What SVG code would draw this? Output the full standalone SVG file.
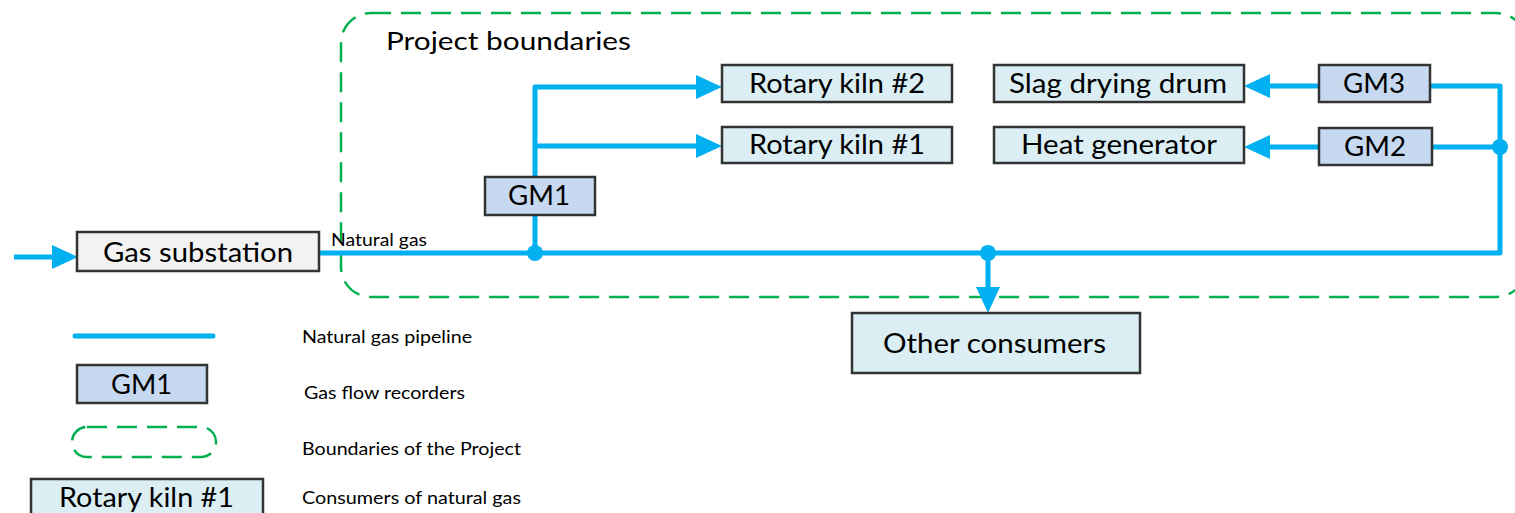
<svg xmlns="http://www.w3.org/2000/svg" width="1515" height="513" viewBox="0 0 1515 513">
<defs>
<style>
.box{stroke:#333;stroke-width:2.5}
.cons{fill:#DAEEF3}
.gm{fill:#C6D9F1}
.sub{fill:#F2F2F2}
.t{font-family:Lato,"Liberation Sans",sans-serif;fill:#000}
.bt{font-size:26px}
.lt{font-size:18px}
.pipe{fill:none;stroke:#00B0F0;stroke-width:5;stroke-linejoin:round}
.dot{fill:#00B0F0}
.bnd{fill:none;stroke:#00B050;stroke-width:2.5;stroke-dasharray:20 10}
</style>
<marker id="ah" markerUnits="userSpaceOnUse" markerWidth="27" markerHeight="25" refX="0" refY="12" orient="auto">
<path d="M0,0 L26,12 L0,24 Z" fill="#00B0F0"/>
</marker>
</defs>
<g id="boundary">
<rect class="bnd" x="341" y="13" width="1185" height="284" rx="30" ry="30"/>
<text class="t" x="386" y="50" font-size="25" textLength="245" lengthAdjust="spacingAndGlyphs">Project boundaries</text>
</g>
<g id="connectors">
<path class="pipe" d="M14,257 H52" marker-end="url(#ah)"/>
<path class="pipe" d="M319,253 H1500 V86 H1430"/>
<path class="pipe" d="M1500,147 H1432"/>
<path class="pipe" d="M1319,86 H1270" marker-end="url(#ah)"/>
<path class="pipe" d="M1319,147 H1270" marker-end="url(#ah)"/>
<path class="pipe" d="M535,253 V216"/>
<path class="pipe" d="M535,177 V87 H696" marker-end="url(#ah)"/>
<path class="pipe" d="M535,146 H696" marker-end="url(#ah)"/>
<path class="pipe" d="M988,253 V287" marker-end="url(#ah)"/>
<circle class="dot" cx="535" cy="253" r="8"/>
<circle class="dot" cx="988" cy="253" r="8"/>
<circle class="dot" cx="1500" cy="147" r="8"/>
<text class="t lt" x="331" y="246" textLength="96" lengthAdjust="spacingAndGlyphs">Natural gas</text>
</g>
<g id="gas-substation">
<rect class="box sub" x="77" y="232" width="242" height="39"/>
<text class="t bt" x="103" y="262" textLength="190" lengthAdjust="spacingAndGlyphs">Gas substation</text>
</g>
<g id="gm1">
<rect class="box gm" x="485" y="177" width="110" height="38"/>
<text class="t bt" x="508" y="205" textLength="62" lengthAdjust="spacingAndGlyphs">GM1</text>
</g>
<g id="rotary-kiln-2">
<rect class="box cons" x="722" y="65" width="230" height="37"/>
<text class="t bt" x="749" y="93" textLength="176" lengthAdjust="spacingAndGlyphs">Rotary kiln #2</text>
</g>
<g id="rotary-kiln-1">
<rect class="box cons" x="722" y="127" width="230" height="36"/>
<text class="t bt" x="749" y="154" textLength="176" lengthAdjust="spacingAndGlyphs">Rotary kiln #1</text>
</g>
<g id="slag-drying-drum">
<rect class="box cons" x="994" y="65" width="250" height="37"/>
<text class="t bt" x="1009" y="93" textLength="218" lengthAdjust="spacingAndGlyphs">Slag drying drum</text>
</g>
<g id="heat-generator">
<rect class="box cons" x="994" y="127" width="250" height="36"/>
<text class="t bt" x="1021" y="154" textLength="196" lengthAdjust="spacingAndGlyphs">Heat generator</text>
</g>
<g id="gm3">
<rect class="box gm" x="1319" y="65" width="111" height="37"/>
<text class="t bt" x="1343" y="93" textLength="62" lengthAdjust="spacingAndGlyphs">GM3</text>
</g>
<g id="gm2">
<rect class="box gm" x="1319" y="128" width="113" height="37"/>
<text class="t bt" x="1344" y="156" textLength="62" lengthAdjust="spacingAndGlyphs">GM2</text>
</g>
<g id="other-consumers">
<rect class="box cons" x="852" y="313" width="288" height="60"/>
<text class="t" x="883" y="353" font-size="27" textLength="223" lengthAdjust="spacingAndGlyphs">Other consumers</text>
</g>
<g id="legend">
<line x1="75" y1="336" x2="213" y2="336" stroke="#00B0F0" stroke-width="5" stroke-linecap="round"/>
<text class="t lt" x="302" y="343" textLength="170" lengthAdjust="spacingAndGlyphs">Natural gas pipeline</text>
<rect class="box gm" x="77" y="365" width="130" height="38"/>
<text class="t bt" x="111" y="394" textLength="61" lengthAdjust="spacingAndGlyphs">GM1</text>
<text class="t lt" x="304" y="399" textLength="161" lengthAdjust="spacingAndGlyphs">Gas flow recorders</text>
<rect class="bnd" x="72" y="427" width="144" height="30" rx="15" ry="15"/>
<text class="t lt" x="302" y="455" textLength="219" lengthAdjust="spacingAndGlyphs">Boundaries of the Project</text>
<rect class="box cons" x="31" y="479" width="232" height="40"/>
<text class="t bt" x="59" y="507" textLength="175" lengthAdjust="spacingAndGlyphs">Rotary kiln #1</text>
<text class="t lt" x="302" y="504" textLength="219" lengthAdjust="spacingAndGlyphs">Consumers of natural gas</text>
</g>
</svg>
